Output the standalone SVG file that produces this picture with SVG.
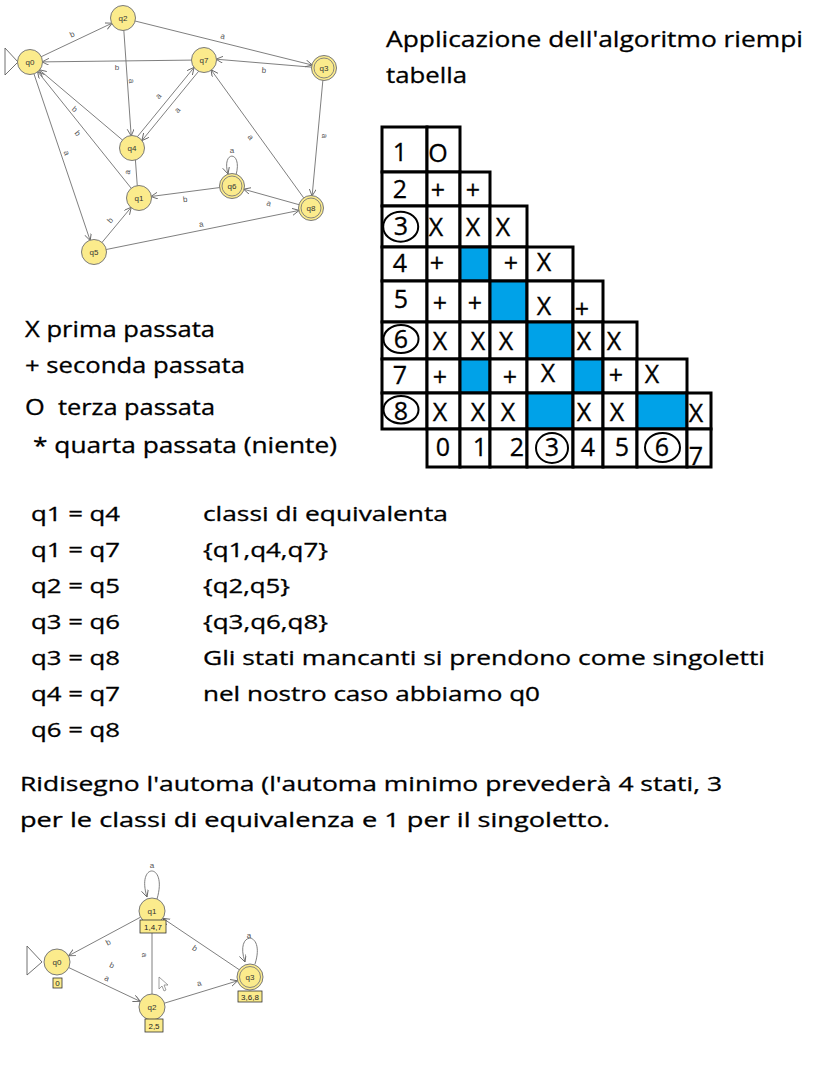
<svg xmlns="http://www.w3.org/2000/svg" width="834" height="1081" viewBox="0 0 834 1081">
<style>
.t{font-family:"Open Sans","Liberation Sans",sans-serif;fill:#000;stroke:#000;stroke-width:0.3}
.big{font-size:22px}
.mid{font-size:20px}
.cell{font-family:"Open Sans","Liberation Sans",sans-serif;font-size:25px;text-anchor:middle;fill:#000;stroke:#000;stroke-width:0.3}
.c{fill:#fff;stroke:#000;stroke-width:3}
.b{fill:#00a2e8;stroke:#000;stroke-width:3}
.ring{fill:none;stroke:#000;stroke-width:2}
.node{fill:#fbeb8c;stroke:#7a7a7a;stroke-width:1}
.inner{fill:none;stroke:#7a7a7a;stroke-width:0.9}
.nl{font-family:"Liberation Sans",sans-serif;font-size:8px;fill:#333;text-anchor:middle}
.el{font-family:"Liberation Sans",sans-serif;font-size:8px;fill:#555;text-anchor:middle}
.edge{stroke:#707070;stroke-width:0.9;fill:none;marker-end:url(#ah)}
.plain{stroke:#707070;stroke-width:0.9;fill:none}
.box{fill:#fbeb8c;stroke:#333;stroke-width:0.8}
.bl{font-family:"Liberation Sans",sans-serif;font-size:8px;fill:#222;text-anchor:middle}
.init{fill:#fff;stroke:#606060;stroke-width:0.9}
</style>
<defs>
<marker id="ah" markerUnits="userSpaceOnUse" markerWidth="9" markerHeight="8" refX="7" refY="3.5" orient="auto">
<path d="M0,0 L7,3.5 L0,7" fill="none" stroke="#666" stroke-width="0.9"/>
</marker>
</defs>
<rect width="834" height="1081" fill="#fff"/>

<!-- ===== Top automaton ===== -->
<g id="connectors-top">
<line class="edge" x1="40.8" y1="56.9" x2="112.2" y2="23.1"/>
<line class="edge" x1="134.6" y1="20.9" x2="312.4" y2="65.1"/>
<line class="edge" x1="192" y1="60.1" x2="42" y2="61.9"/>
<line class="edge" x1="312" y1="67.2" x2="216" y2="59.2"/>
<line class="edge" x1="123.8" y1="30" x2="131.2" y2="136"/>
<line class="edge" x1="137.3" y1="136.8" x2="194.1" y2="67.4"/>
<line class="edge" x1="198.7" y1="71.2" x2="141.9" y2="140.6"/>
<line class="edge" x1="122.8" y1="140.3" x2="39.2" y2="69.7"/>
<line class="edge" x1="131.5" y1="188.6" x2="37.5" y2="71.4"/>
<line class="edge" x1="33.8" y1="73.4" x2="90.2" y2="240.6"/>
<line class="edge" x1="137.3" y1="186.1" x2="133.7" y2="136.1"/>
<line class="edge" x1="101.7" y1="242.8" x2="131.3" y2="207.2"/>
<line class="edge" x1="220.1" y1="187.5" x2="150.9" y2="196.5"/>
<line class="edge" x1="299.4" y1="204.8" x2="243.6" y2="189.2"/>
<line class="edge" x1="105.8" y1="249.6" x2="299.2" y2="210.4"/>
<line class="edge" x1="304" y1="198.3" x2="211" y2="69.7"/>
<line class="edge" x1="322.9" y1="80" x2="312.1" y2="196"/>
<path class="edge" d="M236,175 C243,150 221,150 228,174"/>
<text class="el" x="72" y="37" transform="rotate(-25 72 34)">b</text>
<text class="el" x="223" y="39" transform="rotate(14 223 36)">a</text>
<text class="el" x="117" y="70">b</text>
<text class="el" x="264" y="73" transform="rotate(4 264 70)">b</text>
<text class="el" x="132" y="84" transform="rotate(86 132 81)">a</text>
<text class="el" x="158" y="99" transform="rotate(-51 158 96)">a</text>
<text class="el" x="177" y="113" transform="rotate(-51 177 110)">a</text>
<text class="el" x="75" y="112" transform="rotate(40 75 109)">b</text>
<text class="el" x="78" y="136" transform="rotate(51 78 133)">b</text>
<text class="el" x="67" y="156" transform="rotate(71 67 153)">a</text>
<text class="el" x="127" y="175" transform="rotate(-82 127 172)">a</text>
<text class="el" x="110" y="223" transform="rotate(-50 110 220)">b</text>
<text class="el" x="185" y="202" transform="rotate(-7 185 199)">b</text>
<text class="el" x="269" y="206" transform="rotate(16 269 203)">a</text>
<text class="el" x="201" y="227" transform="rotate(-11 201 224)">a</text>
<text class="el" x="251" y="140" transform="rotate(54 251 137)">a</text>
<text class="el" x="325" y="139" transform="rotate(95 325 136)">a</text>
<text class="el" x="232" y="153">a</text>
</g>
<g id="node-q0"><polygon class="init" points="5,48 18,62 5,75"/><circle class="node" cx="30" cy="62" r="12.5"/><text class="nl" x="30" y="65">q0</text></g>
<g id="node-q2"><circle class="node" cx="123" cy="18" r="12.5"/><text class="nl" x="123" y="21">q2</text></g>
<g id="node-q7"><circle class="node" cx="204" cy="60" r="12.5"/><text class="nl" x="204" y="63">q7</text></g>
<g id="node-q3"><circle class="node" cx="324" cy="68" r="12.5"/><circle class="inner" cx="324" cy="68" r="10"/><text class="nl" x="324" y="71">q3</text></g>
<g id="node-q4"><circle class="node" cx="132" cy="148" r="12.5"/><text class="nl" x="132" y="151">q4</text></g>
<g id="node-q1"><circle class="node" cx="139" cy="198" r="12.5"/><text class="nl" x="139" y="201">q1</text></g>
<g id="node-q5"><circle class="node" cx="94" cy="252" r="12.5"/><text class="nl" x="94" y="255">q5</text></g>
<g id="node-q6"><circle class="node" cx="232" cy="186" r="12.5"/><circle class="inner" cx="232" cy="186" r="10"/><text class="nl" x="232" y="189">q6</text></g>
<g id="node-q8"><circle class="node" cx="311" cy="208" r="12.5"/><circle class="inner" cx="311" cy="208" r="10"/><text class="nl" x="311" y="211">q8</text></g>

<!-- ===== Title ===== -->
<g id="title">
<text class="t big" x="386" y="47" textLength="417" lengthAdjust="spacingAndGlyphs">Applicazione dell'algoritmo riempi</text>
<text class="t big" x="386" y="83" textLength="81" lengthAdjust="spacingAndGlyphs">tabella</text>
</g>

<!-- ===== Table ===== -->
<g id="table">
<rect class="c" x="382" y="127" width="45" height="45"/><rect class="c" x="427" y="127" width="33" height="45"/>
<rect class="c" x="382" y="172" width="45" height="34"/><rect class="c" x="427" y="172" width="33" height="34"/><rect class="c" x="460" y="172" width="30" height="34"/>
<rect class="c" x="382" y="206" width="45" height="41"/><rect class="c" x="427" y="206" width="33" height="41"/><rect class="c" x="460" y="206" width="30" height="41"/><rect class="c" x="490" y="206" width="37" height="41"/>
<rect class="c" x="382" y="247" width="45" height="34"/><rect class="c" x="427" y="247" width="33" height="34"/><rect class="b" x="460" y="247" width="30" height="34"/><rect class="c" x="490" y="247" width="37" height="34"/><rect class="c" x="527" y="247" width="46" height="34"/>
<rect class="c" x="382" y="281" width="45" height="41"/><rect class="c" x="427" y="281" width="33" height="41"/><rect class="c" x="460" y="281" width="30" height="41"/><rect class="b" x="490" y="281" width="37" height="41"/><rect class="c" x="527" y="281" width="46" height="41"/><rect class="c" x="573" y="281" width="30" height="41"/>
<rect class="c" x="382" y="322" width="45" height="37"/><rect class="c" x="427" y="322" width="33" height="37"/><rect class="c" x="460" y="322" width="30" height="37"/><rect class="c" x="490" y="322" width="37" height="37"/><rect class="b" x="527" y="322" width="46" height="37"/><rect class="c" x="573" y="322" width="30" height="37"/><rect class="c" x="603" y="322" width="34" height="37"/>
<rect class="c" x="382" y="359" width="45" height="34"/><rect class="c" x="427" y="359" width="33" height="34"/><rect class="b" x="460" y="359" width="30" height="34"/><rect class="c" x="490" y="359" width="37" height="34"/><rect class="c" x="527" y="359" width="46" height="34"/><rect class="b" x="573" y="359" width="30" height="34"/><rect class="c" x="603" y="359" width="34" height="34"/><rect class="c" x="637" y="359" width="50" height="34"/>
<rect class="c" x="382" y="393" width="45" height="36"/><rect class="c" x="427" y="393" width="33" height="36"/><rect class="c" x="460" y="393" width="30" height="36"/><rect class="c" x="490" y="393" width="37" height="36"/><rect class="b" x="527" y="393" width="46" height="36"/><rect class="c" x="573" y="393" width="30" height="36"/><rect class="c" x="603" y="393" width="34" height="36"/><rect class="b" x="637" y="393" width="50" height="36"/><rect class="c" x="687" y="393" width="24" height="36"/>
<rect class="c" x="427" y="429" width="33" height="38"/><rect class="c" x="460" y="429" width="30" height="38"/><rect class="c" x="490" y="429" width="37" height="38"/><rect class="c" x="527" y="429" width="46" height="38"/><rect class="c" x="573" y="429" width="30" height="38"/><rect class="c" x="603" y="429" width="34" height="38"/><rect class="c" x="637" y="429" width="50" height="38"/><rect class="c" x="687" y="429" width="24" height="38"/>

<text class="cell" x="400" y="161">1</text><text class="cell" x="438" y="162">O</text>
<text class="cell" x="400" y="198">2</text><text class="cell" x="438" y="199">+</text><text class="cell" x="473" y="199">+</text>
<text class="cell" x="401" y="235">3</text><text class="cell" x="436" y="236">X</text><text class="cell" x="473" y="236">X</text><text class="cell" x="503" y="236">X</text>
<text class="cell" x="400" y="272">4</text><text class="cell" x="437" y="272">+</text><text class="cell" x="511" y="272">+</text><text class="cell" x="544" y="271">X</text>
<text class="cell" x="401" y="308">5</text><text class="cell" x="440" y="312">+</text><text class="cell" x="475" y="312">+</text><text class="cell" x="544" y="315">X</text><text class="cell" x="582" y="318">+</text>
<text class="cell" x="401" y="348">6</text><text class="cell" x="440" y="350">X</text><text class="cell" x="478" y="350">X</text><text class="cell" x="506" y="350">X</text><text class="cell" x="584" y="350">X</text><text class="cell" x="614" y="350">X</text>
<text class="cell" x="400" y="384">7</text><text class="cell" x="440" y="386">+</text><text class="cell" x="510" y="386">+</text><text class="cell" x="548" y="382">X</text><text class="cell" x="616" y="384">+</text><text class="cell" x="652" y="383">X</text>
<text class="cell" x="401" y="420">8</text><text class="cell" x="440" y="421">X</text><text class="cell" x="478" y="421">X</text><text class="cell" x="508" y="421">X</text><text class="cell" x="584" y="421">X</text><text class="cell" x="617" y="421">X</text><text class="cell" x="696" y="422">X</text>
<text class="cell" x="443" y="456">0</text><text class="cell" x="480" y="456">1</text><text class="cell" x="517" y="456">2</text><text class="cell" x="552" y="456">3</text><text class="cell" x="588" y="456">4</text><text class="cell" x="622" y="456">5</text><text class="cell" x="662" y="456">6</text><text class="cell" x="696" y="465">7</text>

<ellipse class="ring" cx="400.7" cy="226.7" rx="17.5" ry="15"/>
<ellipse class="ring" cx="401" cy="339" rx="17.5" ry="14"/>
<ellipse class="ring" cx="401" cy="409.7" rx="17.5" ry="13.7"/>
<ellipse class="ring" cx="552" cy="448" rx="16" ry="15"/>
<ellipse class="ring" cx="662.5" cy="447.5" rx="17.5" ry="14.5"/>
</g>

<!-- ===== Legend ===== -->
<g id="legend">
<text class="t big" x="25" y="337" textLength="190" lengthAdjust="spacingAndGlyphs">X prima passata</text>
<text class="t big" x="25" y="373" textLength="220" lengthAdjust="spacingAndGlyphs">+ seconda passata</text>
<text class="t big" x="25" y="415" textLength="190" lengthAdjust="spacingAndGlyphs" style="white-space:pre">O  terza passata</text>
<text class="t big" x="33" y="453" textLength="304" lengthAdjust="spacingAndGlyphs">* quarta passata (niente)</text>
</g>

<!-- ===== Equivalences ===== -->
<g id="equivalences">
<text class="t mid" x="31" y="521" textLength="89" lengthAdjust="spacingAndGlyphs">q1 = q4</text>
<text class="t mid" x="31" y="557" textLength="89" lengthAdjust="spacingAndGlyphs">q1 = q7</text>
<text class="t mid" x="31" y="593" textLength="89" lengthAdjust="spacingAndGlyphs">q2 = q5</text>
<text class="t mid" x="31" y="629" textLength="89" lengthAdjust="spacingAndGlyphs">q3 = q6</text>
<text class="t mid" x="31" y="665" textLength="89" lengthAdjust="spacingAndGlyphs">q3 = q8</text>
<text class="t mid" x="31" y="701" textLength="89" lengthAdjust="spacingAndGlyphs">q4 = q7</text>
<text class="t mid" x="31" y="737" textLength="89" lengthAdjust="spacingAndGlyphs">q6 = q8</text>
<text class="t mid" x="203" y="521" textLength="245" lengthAdjust="spacingAndGlyphs">classi di equivalenta</text>
<text class="t mid" x="203" y="557" textLength="125" lengthAdjust="spacingAndGlyphs">{q1,q4,q7}</text>
<text class="t mid" x="203" y="593" textLength="87" lengthAdjust="spacingAndGlyphs">{q2,q5}</text>
<text class="t mid" x="203" y="629" textLength="125" lengthAdjust="spacingAndGlyphs">{q3,q6,q8}</text>
<text class="t mid" x="203" y="665" textLength="562" lengthAdjust="spacingAndGlyphs">Gli stati mancanti si prendono come singoletti</text>
<text class="t mid" x="203" y="701" textLength="337" lengthAdjust="spacingAndGlyphs">nel nostro caso abbiamo q0</text>
<text class="t mid" x="20" y="791" textLength="702" lengthAdjust="spacingAndGlyphs">Ridisegno l'automa (l'automa minimo prevederà 4 stati, 3</text>
<text class="t mid" x="20" y="827" textLength="590" lengthAdjust="spacingAndGlyphs">per le classi di equivalenza e 1 per il singoletto.</text>
</g>

<!-- ===== Minimal automaton ===== -->
<g id="connectors-min">
<line class="edge" x1="140.5" y1="917.2" x2="68.5" y2="955.8"/>
<line class="edge" x1="68.8" y1="967.6" x2="140.2" y2="1001.4"/>
<line class="plain" x1="152" y1="994" x2="152" y2="933"/>
<line class="edge" x1="239.2" y1="969.7" x2="162.8" y2="918.3"/>
<line class="edge" x1="164.4" y1="1003.2" x2="237.6" y2="980.8"/>
<path class="edge" d="M157,899 C168,862 136,862 147,897"/>
<path class="edge" d="M255,964 C266,930 234,930 245,962"/>
<text class="el" x="108" y="945" transform="rotate(-28 108 942)">b</text>
<text class="el" x="112" y="968" transform="rotate(25 112 965)">b</text>
<text class="el" x="107" y="981" transform="rotate(25 107 978)">a</text>
<text class="el" x="145" y="958" transform="rotate(90 145 955)">a</text>
<text class="el" x="195" y="951" transform="rotate(34 195 948)">b</text>
<text class="el" x="199" y="986" transform="rotate(-17 199 983)">a</text>
<text class="el" x="152" y="868">a</text>
<text class="el" x="249" y="938">a</text>
</g>
<g id="min-q0"><polygon class="init" points="27,946 42,962 27,975"/><circle class="node" cx="57" cy="962" r="13"/><text class="nl" x="57" y="965">q0</text><rect class="box" x="53" y="978" width="9" height="10"/><text class="bl" x="57.5" y="986">0</text></g>
<g id="min-q1"><circle class="node" cx="152" cy="911" r="13"/><text class="nl" x="152" y="914">q1</text><rect class="box" x="140" y="920" width="26" height="13"/><text class="bl" x="153" y="930">1,4,7</text></g>
<g id="min-q2"><circle class="node" cx="152" cy="1007" r="13"/><text class="nl" x="152" y="1010">q2</text><rect class="box" x="145" y="1019" width="18" height="13"/><text class="bl" x="154" y="1029">2,5</text></g>
<g id="min-q3"><circle class="node" cx="250" cy="977" r="13"/><circle class="inner" cx="250" cy="977" r="10.5"/><text class="nl" x="250" y="980">q3</text><rect class="box" x="238" y="991" width="24" height="11"/><text class="bl" x="250" y="999.5">3,6,8</text></g>
<polygon points="159,977 159,989 162,986 164,991 166,990 164,985 168,985" fill="#fff" stroke="#777" stroke-width="0.7"/>
</svg>
